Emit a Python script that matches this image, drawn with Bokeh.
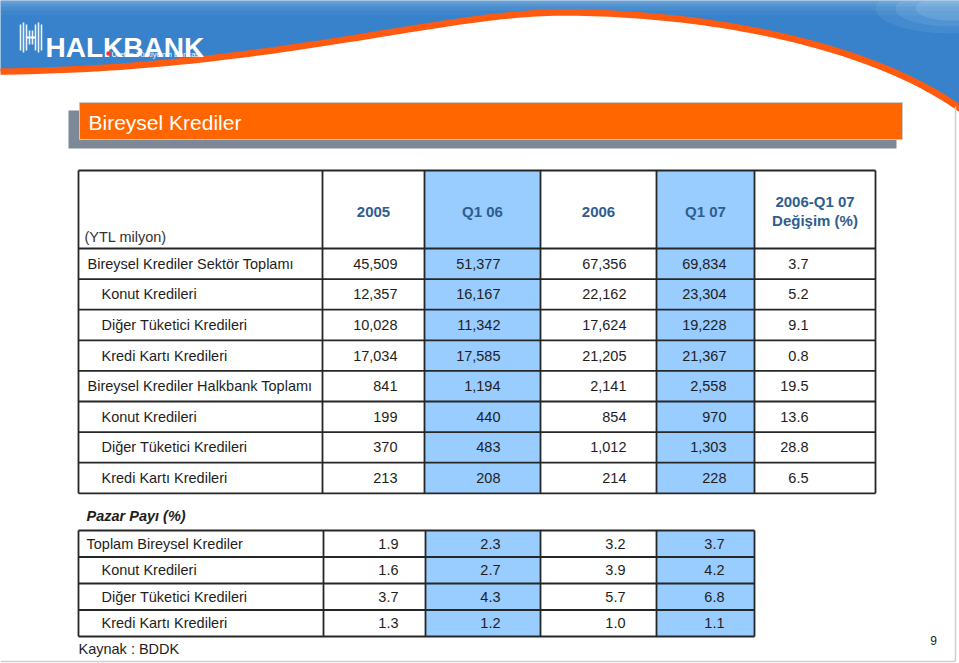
from bokeh.plotting import figure
from bokeh.models import Range1d
from bokeh.core.properties import value
from bokeh.embed import file_html
from bokeh.resources import INLINE
import numpy as np

# ---------------- data ----------------
title = "Bireysel Krediler"
unit_label = "(YTL milyon)"
periods = ["2005", "Q1 06", "2006", "Q1 07"]
change_header = ["2006-Q1 07", "Değişim (%)"]

row_labels = [
    "Bireysel Krediler Sektör Toplamı",
    "Konut Kredileri",
    "Diğer Tüketici Kredileri",
    "Kredi Kartı Kredileri",
    "Bireysel Krediler Halkbank Toplamı",
    "Konut Kredileri",
    "Diğer Tüketici Kredileri",
    "Kredi Kartı Kredileri",
]
row_level = [0, 1, 1, 1, 0, 1, 1, 1]
v_2005 = [45509, 12357, 10028, 17034, 841, 199, 370, 213]
v_q106 = [51377, 16167, 11342, 17585, 1194, 440, 483, 208]
v_2006 = [67356, 22162, 17624, 21205, 2141, 854, 1012, 214]
v_q107 = [69834, 23304, 19228, 21367, 2558, 970, 1303, 228]
v_change = [3.7, 5.2, 9.1, 0.8, 19.5, 13.6, 28.8, 6.5]

share_title = "Pazar Payı (%)"
share_labels = [
    "Toplam Bireysel Krediler",
    "Konut Kredileri",
    "Diğer Tüketici Kredileri",
    "Kredi Kartı Kredileri",
]
share_level = [0, 1, 1, 1]
s_2005 = [1.9, 1.6, 3.7, 1.3]
s_q106 = [2.3, 2.7, 4.3, 1.2]
s_2006 = [3.2, 3.9, 5.7, 1.0]
s_q107 = [3.7, 4.2, 6.8, 1.1]

source_note = "Kaynak : BDDK"
page_no = "9"

# ---------------- styles / layout ----------------
FONT = value("Liberation Sans")
FS = "14.5px"
TXT = "#1e1e1e"
HDR = "#2e5e8e"
BLUE = "#99ccff"
ORANGE = "#ff6600"
LINE = "#262626"

p = figure(width=959, height=663, x_range=Range1d(0, 959), y_range=Range1d(663, 0),
           output_backend="svg", toolbar_location=None, min_border=0,
           x_axis_location=None, y_axis_location=None)
p.grid.visible = False
p.outline_line_color = None
p.background_fill_color = "white"
p.border_fill_color = "white"

# ---------------- banner ----------------
def bez(p0, p1, p2, p3, n=60):
    t = np.linspace(0, 1, n)[:, None]
    pts = ((1 - t) ** 3) * np.array(p0) + 3 * ((1 - t) ** 2) * t * np.array(p1) \
        + 3 * (1 - t) * t ** 2 * np.array(p2) + t ** 3 * np.array(p3)
    return pts[:, 0], pts[:, 1]

ax1, ay1 = bez((-10, 71), (260, 70), (440, 12), (560, 12))
ax2, ay2 = bez((560, 12), (720, 12), (880, 48), (965, 112))
arc_x = np.concatenate([ax1, ax2[1:]])
arc_y = np.concatenate([ay1, ay2[1:]])

bx = np.concatenate([[-10, 970, 970], arc_x[::-1]])
by = np.concatenate([[-10, -10, 112], arc_y[::-1]])
p.patch(bx, by, fill_color="#3782ca", line_color=None)
for yy, a in [(3, 0.10), (6, 0.08), (10, 0.06), (15, 0.04)]:
    p.quad(left=-10, right=970, top=-10, bottom=yy, fill_color="white", fill_alpha=a, line_color=None)
for w, h, a in [(150, 50, 0.08), (110, 36, 0.10), (70, 24, 0.12)]:
    p.ellipse(x=[950], y=[8], width=w, height=h, fill_color="#d8f4ff", fill_alpha=a, line_color=None)
p.patch(np.concatenate([[-10, 955, 955], arc_x[::-1]]),
        np.concatenate([[680, 680, 112], arc_y[::-1]]), fill_color="white", line_color=None)
p.line(arc_x, arc_y, line_color="#ff5a10", line_width=6.5)

# slide frame
p.segment(x0=[955, 0], y0=[106, 661], x1=[955, 955], y1=[661, 661], line_color="#cfcfcf", line_width=1.5)

# logo mark: stylised H of thin vertical bars
mark_x = [20, 23, 26, 29, 32, 35, 38, 41]
mark_top = [24, 22, 24, 30, 30, 24, 22, 24]
mark_bot = [50, 52, 50, 44, 44, 50, 52, 50]
p.segment(x0=mark_x, y0=mark_top, x1=mark_x, y1=mark_bot, line_color="white", line_width=1.6, line_alpha=0.9)
p.segment(x0=[26], y0=[37], x1=[35], y1=[37], line_color="white", line_width=2)
p.text(x=[45], y=[47], text=["HALKBANK"], text_font=FONT, text_font_style="bold",
       text_font_size="28px", text_color="white", text_baseline="alphabetic")
p.scatter(x=[108], y=[53], size=3, color="#ff3030", marker="square")
p.text(x=[111], y=[53.5], text=["Üreten Türkiye'nin Bankası"], text_font=FONT, text_font_size="7.5px",
       text_color="white", text_baseline="middle")

# ---------------- title bar ----------------
p.quad(left=68, right=896, top=110, bottom=148, fill_color="#7d8898", line_color=None)
p.quad(left=79, right=902, top=102, bottom=139, fill_color=ORANGE, line_color="#c9c9c9", line_width=1)
p.text(x=[88], y=[122], text=[title], text_font=FONT, text_font_size="21px", text_color="white",
       text_baseline="middle")

# ---------------- table 1 ----------------
c_edges = [78, 322, 424, 540, 656, 754, 875]
t_top, h_bot = 170, 248
n_rows = len(row_labels)
row_h = 30.6
t_bot = h_bot + n_rows * row_h
right_pos = [397, 500, 626, 726]
chg_right = 808

p.quad(left=[c_edges[2], c_edges[4]], right=[c_edges[3], c_edges[5]],
       top=t_top, bottom=t_bot, fill_color=BLUE, line_color=None)

hy = [t_top, h_bot] + [h_bot + (i + 1) * row_h for i in range(n_rows)]
p.segment(x0=[c_edges[0]] * len(hy), y0=hy, x1=[c_edges[-1]] * len(hy), y1=hy,
          line_color=LINE, line_width=1.8)
p.segment(x0=c_edges, y0=[t_top] * len(c_edges), x1=c_edges, y1=[t_bot] * len(c_edges),
          line_color=LINE, line_width=1.8)

hdr_x = [(c_edges[i + 1] + c_edges[i + 2]) / 2 for i in range(4)]
p.text(x=hdr_x, y=[211] * 4, text=periods, text_font=FONT, text_font_style="bold",
       text_font_size="15px", text_color=HDR, text_align="center", text_baseline="middle")
cx = (c_edges[5] + c_edges[6]) / 2
p.text(x=[cx, cx], y=[201, 220], text=change_header, text_font=FONT, text_font_style="bold",
       text_font_size="15px", text_color=HDR, text_align="center", text_baseline="middle")
p.text(x=[84], y=[236], text=[unit_label], text_font=FONT, text_font_size=FS,
       text_color="#333333", text_baseline="middle")

ry = [h_bot + (i + 0.5) * row_h for i in range(n_rows)]
lx = [87 if lv == 0 else 101 for lv in row_level]
p.text(x=lx, y=ry, text=row_labels, text_font=FONT, text_font_size=FS, text_color=TXT,
       text_baseline="middle")
for col, vals in enumerate([v_2005, v_q106, v_2006, v_q107]):
    p.text(x=[right_pos[col]] * n_rows, y=ry, text=[f"{v:,}" for v in vals], text_font=FONT,
           text_font_size=FS, text_color=TXT, text_align="right", text_baseline="middle")
p.text(x=[chg_right] * n_rows, y=ry, text=[f"{v:.1f}" for v in v_change], text_font=FONT,
       text_font_size=FS, text_color=TXT, text_align="right", text_baseline="middle")

# ---------------- table 2 ----------------
p.text(x=[86], y=[515], text=[share_title], text_font=FONT, text_font_style="bold italic",
       text_font_size=FS, text_color=TXT, text_baseline="middle")
s_edges = [78, 323, 425, 540, 656, 754]
s_top = 530
s_row_h = 26.5
n_s = len(share_labels)
s_bot = s_top + n_s * s_row_h
s_right = [398, 500, 625, 724]

p.quad(left=[s_edges[2], s_edges[4]], right=[s_edges[3], s_edges[5]],
       top=s_top, bottom=s_bot, fill_color=BLUE, line_color=None)
shy = [s_top + i * s_row_h for i in range(n_s + 1)]
p.segment(x0=[s_edges[0]] * len(shy), y0=shy, x1=[s_edges[-1]] * len(shy), y1=shy,
          line_color=LINE, line_width=1.8)
p.segment(x0=s_edges, y0=[s_top] * len(s_edges), x1=s_edges, y1=[s_bot] * len(s_edges),
          line_color=LINE, line_width=1.8)

sy = [s_top + (i + 0.5) * s_row_h for i in range(n_s)]
slx = [86 if lv == 0 else 101 for lv in share_level]
p.text(x=slx, y=sy, text=share_labels, text_font=FONT, text_font_size=FS, text_color=TXT,
       text_baseline="middle")
for col, vals in enumerate([s_2005, s_q106, s_2006, s_q107]):
    p.text(x=[s_right[col]] * n_s, y=sy, text=[f"{v:.1f}" for v in vals], text_font=FONT,
           text_font_size=FS, text_color=TXT, text_align="right", text_baseline="middle")

p.text(x=[78], y=[648], text=[source_note], text_font=FONT, text_font_size=FS, text_color=TXT,
       text_baseline="middle")
p.text(x=[933], y=[640], text=[page_no], text_font=FONT, text_font_size="12px", text_color=TXT,
       text_align="center", text_baseline="middle")

open("out.html", "w").write(file_html(p, INLINE))
